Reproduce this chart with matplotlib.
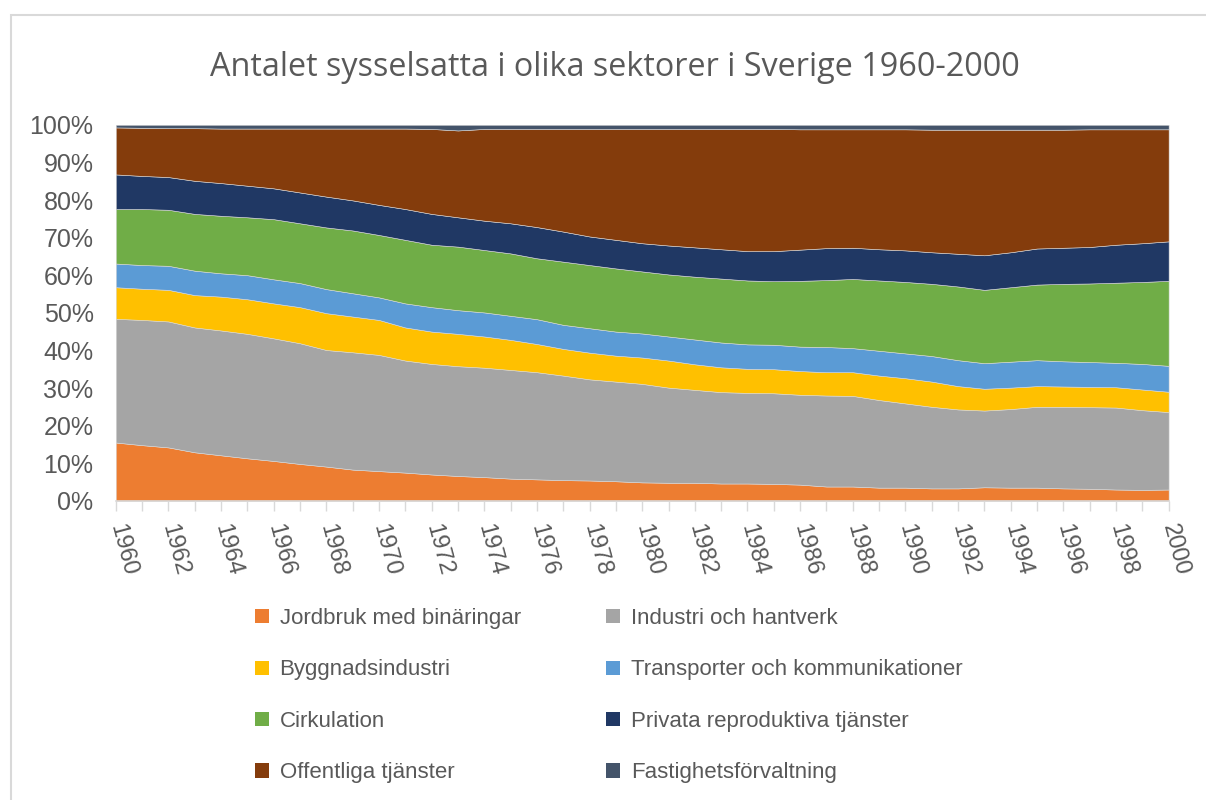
import matplotlib
matplotlib.use('Agg')
import matplotlib.pyplot as plt
from matplotlib.patches import Rectangle, Patch
import numpy as np

years = list(range(1960, 2001))

# andel sysselsatta per sektor, procent
jordbruk = [15.5, 14.8, 14.2, 12.9, 12.1, 11.3, 10.6, 9.8, 9.1, 8.3, 7.9, 7.5, 7.0, 6.6, 6.3, 5.9, 5.7, 5.5, 5.4, 5.2,
            4.9, 4.8, 4.8, 4.6, 4.6, 4.5, 4.3, 3.8, 3.8, 3.5, 3.5, 3.3, 3.3, 3.6, 3.5, 3.5, 3.3, 3.2, 3.0, 2.9, 3.0]
industri = [32.9, 33.3, 33.5, 33.2, 33.2, 33.1, 32.6, 32.1, 31.0, 31.2, 30.9, 29.8, 29.4, 29.2, 29.1, 28.9, 28.5, 27.8, 26.9, 26.5,
            26.2, 25.3, 24.7, 24.3, 24.1, 24.1, 23.9, 24.2, 24.1, 23.3, 22.4, 21.7, 21.0, 20.4, 20.9, 21.5, 21.7, 21.7, 21.8, 21.2, 20.6]
bygg = [8.4, 8.3, 8.4, 8.6, 9.0, 9.2, 9.3, 9.6, 9.8, 9.5, 9.3, 8.8, 8.6, 8.6, 8.3, 8.0, 7.5, 7.1, 7.1, 6.9,
        7.0, 7.2, 6.8, 6.6, 6.4, 6.4, 6.3, 6.2, 6.3, 6.5, 6.7, 6.7, 6.2, 5.8, 5.7, 5.5, 5.4, 5.4, 5.4, 5.5, 5.4]
transport = [6.3, 6.3, 6.4, 6.5, 6.2, 6.4, 6.4, 6.4, 6.4, 6.2, 6.0, 6.4, 6.5, 6.3, 6.4, 6.4, 6.6, 6.4, 6.5, 6.4,
             6.4, 6.4, 6.6, 6.6, 6.5, 6.5, 6.5, 6.7, 6.4, 6.6, 6.6, 6.8, 6.9, 6.8, 6.9, 6.9, 6.7, 6.6, 6.5, 6.8, 6.9]
cirkulation = [14.5, 14.9, 14.9, 15.1, 15.3, 15.4, 16.0, 15.9, 16.4, 16.7, 16.6, 16.9, 16.6, 16.9, 16.6, 16.6, 16.2, 16.8, 16.8, 16.8,
               16.5, 16.5, 16.7, 17.0, 17.0, 16.9, 17.5, 17.8, 18.4, 18.7, 19.0, 19.2, 19.6, 19.5, 19.8, 20.1, 20.6, 20.9, 21.3, 21.8, 22.6]
privata = [9.2, 8.8, 8.7, 8.8, 8.7, 8.4, 8.2, 8.2, 8.2, 8.0, 8.0, 8.2, 8.2, 7.8, 7.8, 8.0, 8.3, 8.0, 7.6, 7.6,
           7.5, 7.7, 7.8, 7.8, 7.8, 8.0, 8.3, 8.5, 8.3, 8.3, 8.4, 8.4, 8.7, 9.2, 9.3, 9.6, 9.6, 9.7, 10.1, 10.3, 10.5]
offentliga = [12.5, 12.8, 13.0, 14.0, 14.5, 15.2, 15.9, 17.0, 18.1, 19.1, 20.3, 21.4, 22.6, 23.1, 24.4, 25.1, 26.1, 27.3, 28.6, 29.5,
              30.4, 31.0, 31.5, 32.0, 32.5, 32.5, 32.0, 31.6, 31.5, 31.9, 32.2, 32.6, 33.0, 33.4, 32.6, 31.6, 31.4, 31.3, 30.7, 30.3, 29.8]
fastighet = [0.7, 0.8, 0.9, 0.9, 1.0, 1.0, 1.0, 1.0, 1.0, 1.0, 1.0, 1.0, 1.1, 1.5, 1.1, 1.1, 1.1, 1.1, 1.1, 1.1,
             1.1, 1.1, 1.1, 1.1, 1.1, 1.1, 1.2, 1.2, 1.2, 1.2, 1.2, 1.3, 1.3, 1.3, 1.3, 1.3, 1.3, 1.2, 1.2, 1.2, 1.2]

labels = ['Jordbruk med binäringar', 'Industri och hantverk', 'Byggnadsindustri',
          'Transporter och kommunikationer', 'Cirkulation', 'Privata reproduktiva tjänster',
          'Offentliga tjänster', 'Fastighetsförvaltning']
colors = ['#ED7D31', '#A5A5A5', '#FFC000', '#5B9BD5', '#70AD47', '#203864', '#843C0C', '#44546A']

series = np.array([jordbruk, industri, bygg, transport, cirkulation, privata, offentliga, fastighet])
andel = series / series.sum(axis=0) * 100  # 100 % staplat

fig = plt.figure(figsize=(12.06, 8), dpi=100)
ax = fig.add_axes([0.096, 0.374, 0.873, 0.470])

ax.stackplot(years, andel, colors=colors, edgecolor='#d9d9d9', linewidth=0.4)

ax.set_xlim(1960, 2000)
ax.set_ylim(0, 100)
ax.set_yticks(range(0, 101, 10))
ax.set_yticklabels([f'{v}%' for v in range(0, 101, 10)], family=['Liberation Sans', 'DejaVu Sans'],
                   fontsize=18, color='#595959')
ax.set_xticks(years, minor=True)
ax.set_xticks(years[::2])
ax.set_xticklabels([str(y) for y in years[::2]], rotation=-75, rotation_mode='anchor',
                   ha='left', va='center', family=['Liberation Sans', 'DejaVu Sans'],
                   fontsize=17, color='#595959')
ax.tick_params(axis='x', which='both', length=7, color='#d9d9d9', width=1, pad=10)
ax.tick_params(axis='y', length=0, pad=16)
for s in ['top', 'right', 'left']:
    ax.spines[s].set_visible(False)
ax.spines['bottom'].set_color('#d9d9d9')
ax.spines['bottom'].set_linewidth(1.2)

fig.text(0.51, 0.915, 'Antalet sysselsatta i olika sektorer i Sverige 1960-2000',
         ha='center', va='center', fontsize=23.3, color='#595959', family=['Open Sans', 'DejaVu Sans'])

# legend, radvis som i originalet
order = [0, 2, 4, 6, 1, 3, 5, 7]
handles = [Patch(facecolor=colors[i], edgecolor='none') for i in order]
fig.legend(handles, [labels[i] for i in order], ncol=2, loc='upper left',
           bbox_to_anchor=(0.195, 0.265), frameon=False,
           prop={'family': ['Liberation Sans', 'DejaVu Sans'], 'size': 16},
           labelcolor='#595959', handlelength=0.6, handleheight=0.6, handletextpad=0.5,
           columnspacing=3.85, labelspacing=1.37)

# ram runt diagramområdet
fig.patches.append(Rectangle((11 / 1206, -0.1), 1.2, 1 - 15 / 800 + 0.1, transform=fig.transFigure,
                             fill=False, edgecolor='#d9d9d9', linewidth=1.5))

fig.savefig('out.png', dpi=100)
